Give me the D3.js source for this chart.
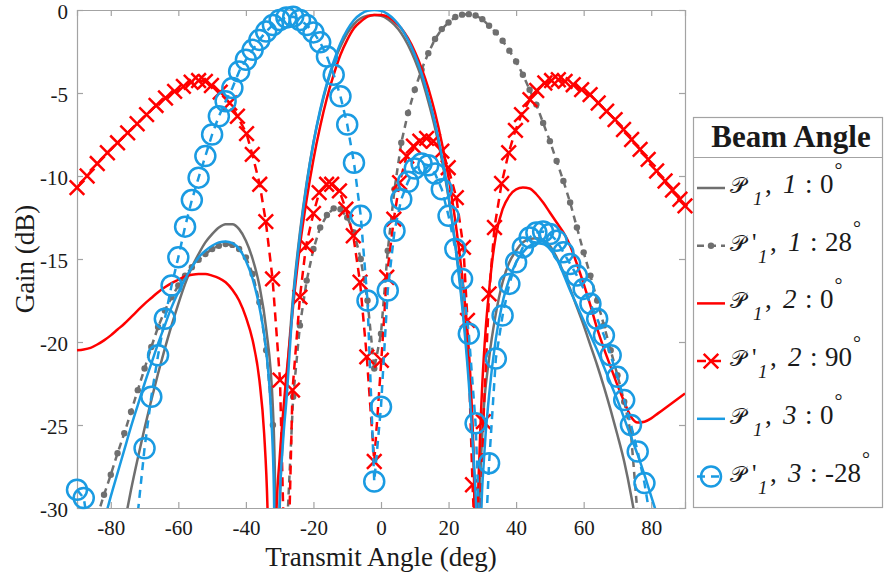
<!DOCTYPE html>
<html><head><meta charset="utf-8">
<script src="https://cdn.jsdelivr.net/npm/d3@7"></script>
<style>
body{margin:0;background:#fff}
svg{display:block}
text{font-family:"Liberation Serif","Times New Roman",serif;fill:#1a1a1a}
</style>
</head><body>
<svg id="c" width="884" height="577"></svg>
<script>
// ---------------- data (angle in deg, gain in dB) ----------------
const xTicks = [-80,-60,-40,-20,0,20,40,60,80];
const yTicks = [0,-5,-10,-15,-20,-25,-30];

const grayP1 = [[-90,-48],[-86,-42],[-82,-37],[-78,-33.3],[-76,-31.0],[-74,-28.9],[-72,-27.0],[-70,-25.2],[-68,-23.5],[-66,-21.9],[-64,-20.4],[-62,-19.0],[-60,-17.7],[-58,-16.5],[-56,-15.5],[-54,-14.7],[-52,-14.0],[-50,-13.5],[-48,-13.1],[-46,-12.9],[-44,-12.9],[-42,-13.2],[-40,-13.9],[-38,-15.0],[-36,-16.6],[-34,-19.2],[-32,-24.0],[-31.3,-29.5],[-30.7,-45],[-30.1,-31],[-29,-25.5],[-28,-22.5],[-26,-17.2],[-24,-13.4],[-22,-10.4],[-20,-8.0],[-18,-6.1],[-16,-4.5],[-14,-3.2],[-12,-2.2],[-10,-1.4],[-8,-0.85],[-6,-0.5],[-4,-0.35],[-2,-0.3],[0,-0.35],[2,-0.55],[4,-0.9],[6,-1.4],[8,-2.1],[10,-3.0],[12,-4.1],[14,-5.5],[16,-7.1],[18,-9.0],[20,-11.3],[22,-14.1],[24,-17.5],[26,-22.0],[27.2,-26.0],[27.8,-30.0],[28.4,-45],[29.0,-31],[30,-25.5],[32,-21.0],[34,-18.3],[36,-16.4],[38,-15.2],[40,-14.5],[42,-14.0],[44,-13.8],[46,-13.75],[48,-13.85],[50,-14.2],[52,-14.9],[54,-15.8],[56,-16.8],[58,-17.9],[60,-19.0],[62,-20.2],[64,-21.4],[66,-22.7],[68,-24.1],[70,-25.6],[72,-27.2],[74,-29.2],[75.5,-31],[78,-36],[82,-42],[86,-46],[90,-50]];

const grayP1p = [[-90,-45],[-88,-40],[-86,-34],[-84,-30.5],[-82,-29.2],[-80,-28.0],[-78,-26.7],[-76,-25.5],[-74,-24.2],[-72,-22.9],[-70,-21.6],[-68,-20.3],[-66,-19.1],[-64,-18.1],[-62,-17.3],[-60,-16.6],[-58,-16.0],[-56,-15.5],[-54,-15.05],[-52,-14.7],[-50,-14.4],[-48,-14.2],[-46,-14.1],[-44,-14.15],[-42,-14.4],[-40,-14.9],[-38,-15.9],[-36,-17.6],[-34,-20.5],[-32,-25.0],[-30,-40],[-28,-32],[-26,-23.3],[-24,-19.0],[-22,-16.3],[-20,-14.4],[-18,-13.1],[-16,-12.35],[-14,-11.95],[-12,-12.0],[-10,-12.5],[-8,-13.4],[-6,-15.0],[-4,-17.5],[-2,-21.6],[0,-19.5],[2,-14.5],[4,-10.8],[6,-8.0],[8,-6.2],[10,-4.8],[12,-3.6],[14,-2.6],[16,-1.75],[18,-1.15],[20,-0.75],[22,-0.42],[24,-0.28],[26,-0.25],[28,-0.33],[30,-0.55],[32,-0.95],[34,-1.35],[36,-1.85],[38,-2.45],[40,-3.1],[42,-3.9],[44,-4.8],[46,-5.7],[48,-6.8],[50,-7.9],[52,-9.1],[54,-10.3],[56,-11.6],[58,-13.1],[60,-14.6],[62,-16.0],[64,-17.5],[66,-19.0],[68,-20.5],[70,-22.0],[72,-23.6],[74,-25.5],[76,-30.5],[78,-40],[80,-36],[82,-34],[84,-33],[86,-33],[88,-33],[90,-34]];

const redP2 = [[-90,-20.5],[-88,-20.45],[-86,-20.35],[-84,-20.15],[-82,-19.9],[-80,-19.6],[-78,-19.25],[-76,-18.9],[-74,-18.5],[-72,-18.1],[-70,-17.7],[-68,-17.35],[-66,-17.0],[-64,-16.7],[-62,-16.45],[-60,-16.25],[-58,-16.05],[-56,-15.95],[-54,-15.9],[-52,-15.9],[-50,-16.0],[-48,-16.15],[-46,-16.4],[-44,-16.85],[-42,-17.5],[-40,-18.5],[-38,-19.9],[-36,-22.3],[-34.6,-25.5],[-33.6,-30],[-32.3,-45],[-31.0,-30.5],[-30,-27],[-28,-22],[-26,-17.8],[-24,-14.2],[-22,-11.4],[-20,-9.0],[-18,-7.0],[-16,-5.3],[-14,-3.9],[-12,-2.7],[-10,-1.8],[-8,-1.1],[-6,-0.7],[-4,-0.4],[-2,-0.3],[0,-0.3],[2,-0.4],[4,-0.7],[6,-1.1],[8,-1.7],[10,-2.5],[12,-3.5],[14,-4.7],[16,-6.2],[18,-8.0],[20,-10.1],[22,-12.7],[24,-16.0],[26,-20.5],[27,-24.5],[27.6,-29],[28.1,-45],[28.6,-31],[29.2,-26.5],[30,-22.5],[31,-19.2],[32,-16.9],[33,-15.0],[34,-13.6],[36,-12.0],[38,-11.2],[40,-10.8],[42,-10.7],[44,-10.75],[46,-11.1],[48,-11.6],[50,-12.2],[52,-12.8],[54,-13.4],[56,-14.2],[58,-15.3],[60,-16.5],[62,-17.8],[64,-19.2],[66,-20.4],[68,-21.5],[70,-22.6],[72,-23.6],[74,-24.5],[76,-24.85],[78,-24.8],[80,-24.6],[82,-24.3],[84,-24.0],[86,-23.7],[88,-23.4],[90,-23.1]];

const redP2p = [[-90,-10.7],[-87,-10.0],[-84,-9.25],[-81,-8.6],[-78,-8.0],[-75,-7.4],[-72.2,-6.85],[-69.4,-6.3],[-66.6,-5.75],[-63.8,-5.3],[-61.1,-4.9],[-58.5,-4.6],[-56.2,-4.35],[-54,-4.25],[-52,-4.3],[-50.2,-4.55],[-47.6,-4.95],[-44.8,-5.6],[-42.5,-6.4],[-39.8,-7.45],[-38.1,-8.7],[-35.9,-10.5],[-34.1,-12.75],[-32.1,-16.2],[-29.9,-22.3],[-28,-38],[-26.2,-22.9],[-24,-17.3],[-22.2,-14.2],[-20,-12.25],[-18.3,-11.0],[-16.1,-10.5],[-14.6,-10.5],[-12.3,-10.9],[-10.4,-12.0],[-8.2,-13.6],[-6.2,-16.4],[-4.2,-20.9],[-2.0,-27.2],[0.1,-21.1],[1.7,-16.1],[3.8,-12.6],[5.5,-10.4],[7.6,-8.8],[9.6,-8.2],[11.5,-7.9],[13.5,-7.73],[15.5,-7.9],[18,-8.5],[19.9,-9.5],[22.3,-11.3],[24.4,-14.3],[25.6,-18.7],[27.1,-28.6],[28.7,-36],[30.3,-24.8],[32,-17.1],[33.6,-13.1],[35.7,-10.45],[37.8,-8.6],[39.8,-7.25],[41.6,-6.3],[44.1,-5.4],[46.1,-4.85],[48.5,-4.4],[50.5,-4.25],[52.5,-4.2],[54.5,-4.3],[56.9,-4.5],[59.4,-4.8],[61.9,-5.1],[64.3,-5.6],[66.8,-6.1],[69.3,-6.6],[71.8,-7.2],[74.2,-7.8],[76.7,-8.4],[79.1,-9.0],[81.6,-9.7],[84.1,-10.3],[86.3,-10.85],[88.5,-11.4],[90,-11.8]];

const blueP3 = [[-90,-40],[-86,-34],[-84,-32.4],[-82,-30.8],[-80,-29.3],[-78,-27.9],[-76,-26.5],[-74,-25.1],[-72,-23.8],[-70,-22.5],[-68,-21.3],[-66,-20.1],[-64,-19.0],[-62,-17.9],[-60,-17.0],[-58,-16.2],[-56,-15.5],[-54,-14.9],[-52,-14.5],[-50,-14.2],[-48,-14.0],[-46,-13.95],[-44,-14.05],[-42,-14.4],[-40,-15.1],[-38,-16.2],[-36,-17.9],[-34,-20.5],[-32.5,-24.5],[-31.7,-29],[-30.9,-45],[-30.1,-30.5],[-29,-26],[-28,-23.5],[-26,-17.5],[-24,-13.6],[-22,-10.5],[-20,-8.0],[-18,-6.0],[-16,-4.4],[-14,-3.1],[-12,-2.0],[-10,-1.2],[-8,-0.6],[-6,-0.25],[-4,-0.05],[-2,0],[0,-0.05],[2,-0.25],[4,-0.6],[6,-1.1],[8,-1.8],[10,-2.7],[12,-3.8],[14,-5.2],[16,-6.8],[18,-8.8],[20,-11.2],[22,-14.2],[24,-17.8],[26,-22.5],[27.4,-27],[28.3,-31],[28.9,-45],[29.6,-31],[30.5,-27],[32,-23.2],[34,-19.8],[36,-17.6],[38,-16.2],[40,-15.2],[42,-14.6],[44,-14.2],[46,-14.05],[48,-14.1],[50,-14.4],[52,-15.0],[54,-15.9],[56,-16.9],[58,-17.8],[60,-18.7],[62,-19.6],[64,-20.5],[66,-21.5],[68,-22.5],[70,-23.5],[72,-24.6],[74,-25.7],[76,-26.8],[78,-28.0],[80,-29.3],[82,-30.6],[86,-33.5],[90,-37]];

const blueP3p = [[-90,-28.9],[-88,-29.4],[-86,-32],[-84,-36],[-82,-42],[-80,-45],[-78,-40],[-76,-36],[-74,-33],[-72,-30.3],[-70,-26.4],[-68,-23.3],[-66,-20.8],[-64,-18.6],[-62,-16.6],[-60,-14.9],[-58,-13.05],[-56,-11.45],[-54,-10.1],[-52,-8.8],[-50,-7.5],[-48,-6.4],[-46,-5.5],[-44,-4.7],[-42,-3.7],[-40,-3.0],[-38,-2.4],[-36,-1.8],[-34,-1.3],[-32,-0.9],[-30,-0.6],[-28,-0.45],[-26,-0.4],[-24,-0.6],[-22,-0.9],[-20,-1.35],[-18,-1.95],[-16,-2.8],[-14,-3.9],[-12,-5.2],[-10,-6.9],[-8,-9.2],[-6,-12.4],[-4,-17.5],[-2,-28.4],[0,-23.9],[2,-16.9],[4,-13.3],[6,-11.4],[8,-10.35],[10,-9.55],[12,-9.25],[14,-9.35],[16,-9.85],[18,-10.8],[20,-12.4],[22,-14.4],[24,-16.2],[26,-19.5],[28,-24.9],[30,-36],[32,-27.3],[34,-21.0],[36,-18.4],[38,-16.5],[40,-15.2],[42,-14.3],[44,-13.7],[46,-13.4],[48,-13.35],[50,-13.5],[52,-13.9],[54,-14.6],[56,-15.3],[58,-16.0],[60,-16.8],[62,-17.7],[64,-18.6],[66,-19.6],[68,-20.8],[70,-22.1],[72,-23.5],[74,-25.0],[76,-26.6],[78,-28.5],[80,-31],[82,-34],[84,-37],[86,-40],[88,-43],[90,-46]];

const legendTitle = "Beam Angle";
const legendEntries = [
  {idx:"1", val:"0",   prime:false},
  {idx:"1", val:"28",  prime:true},
  {idx:"2", val:"0",   prime:false},
  {idx:"2", val:"90",  prime:true},
  {idx:"3", val:"0",   prime:false},
  {idx:"3", val:"-28", prime:true}
];

// ---------------- drawing ----------------
const GRAY="#6f6f6f", RED="#ff0000", BLUE="#1a9be2";
const series = [
  {data:grayP1,  color:GRAY, dash:null,  marker:null,     curve:d3.curveMonotoneX},
  {data:grayP1p, color:GRAY, dash:"7,5", marker:"dot",    curve:d3.curveLinear},
  {data:redP2,   color:RED,  dash:null,  marker:null,     curve:d3.curveMonotoneX},
  {data:redP2p,  color:RED,  dash:"9,6", marker:"x",      curve:d3.curveLinear},
  {data:blueP3,  color:BLUE, dash:null,  marker:null,     curve:d3.curveMonotoneX},
  {data:blueP3p, color:BLUE, dash:"8,6", marker:"circle", curve:d3.curveLinear}
];

const L=77,R=685,T=10,B=508;
const svg=d3.select("#c");
const x=d3.scaleLinear().domain([-90,90]).range([L,R]);
const y=d3.scaleLinear().domain([-30,0]).range([B,T]);

svg.append("defs").append("clipPath").attr("id","clip")
  .append("rect").attr("x",L).attr("y",T).attr("width",R-L).attr("height",B-T);

// axes
const AX="#a3a3a3";
function styleAxis(g){
  g.select(".domain").attr("stroke",AX).attr("stroke-width",1.2);
  g.selectAll(".tick line").attr("stroke",AX).attr("stroke-width",1.2);
  g.selectAll(".tick text").style("font-family",'"Liberation Serif",serif').style("font-size","21px").attr("fill","#262626");
}
svg.append("g").attr("transform",`translate(0,${B})`)
  .call(d3.axisBottom(x).tickValues(xTicks).tickSize(-6).tickPadding(12).tickFormat(d3.format("d")))
  .call(styleAxis);
svg.append("g").attr("transform",`translate(0,${T})`)
  .call(d3.axisTop(x).tickValues(xTicks).tickSize(-6).tickFormat(""))
  .call(styleAxis);
const yAx=svg.append("g").attr("transform",`translate(${L},0)`)
  .call(d3.axisLeft(y).tickValues(yTicks).tickSize(-6).tickPadding(9).tickFormat(d3.format("d")))
  .call(styleAxis);
yAx.selectAll(".tick text").attr("dy","0.42em");
svg.append("g").attr("transform",`translate(${R},0)`)
  .call(d3.axisRight(y).tickValues(yTicks).tickSize(-6).tickFormat(""))
  .call(styleAxis);
svg.selectAll(".tick text").text(function(){return this.textContent.replace("\u2212","-");});

// axis titles
svg.append("text").attr("x",(L+R)/2).attr("y",566).attr("text-anchor","middle")
  .style("font-size","27px").text("Transmit Angle (deg)");
svg.append("text").attr("transform",`translate(34,${(T+B)/2}) rotate(-90)`).attr("text-anchor","middle")
  .style("font-size","27px").text("Gain (dB)");

// series
const plot=svg.append("g");
series.forEach(s=>{
  const line=d3.line().x(d=>x(d[0])).y(d=>y(d[1])).curve(s.curve);
  plot.append("path").attr("d",line(s.data)).attr("clip-path","url(#clip)")
    .attr("fill","none").attr("stroke",s.color).attr("stroke-width",2.5)
    .attr("stroke-dasharray",s.dash).attr("stroke-linejoin","round");
  if(s.marker){
    const pts=s.data.filter(d=>d[1]>=-30&&d[1]<=0);
    drawMarkers(plot,pts.map(d=>[x(d[0]),y(d[1])]),s.marker,s.color);
  }
});

function drawMarkers(g,pts,type,color){
  pts.forEach(p=>{
    if(type==="dot"){
      g.append("circle").attr("cx",p[0]).attr("cy",p[1]).attr("r",3.2).attr("fill",color);
    } else if(type==="x"){
      const r=7.3;
      g.append("path").attr("d",`M${p[0]-r},${p[1]-r}L${p[0]+r},${p[1]+r}M${p[0]-r},${p[1]+r}L${p[0]+r},${p[1]-r}`)
        .attr("stroke",color).attr("stroke-width",2.5).attr("fill","none");
    } else {
      g.append("circle").attr("cx",p[0]).attr("cy",p[1]).attr("r",10)
        .attr("fill","none").attr("stroke",color).attr("stroke-width",2.5);
    }
  });
}

// legend
const lg=svg.append("g");
lg.append("rect").attr("x",693.5).attr("y",117.5).attr("width",189).attr("height",390)
  .attr("fill","#fff").attr("stroke",AX).attr("stroke-width",1.2);
lg.append("line").attr("x1",693.5).attr("x2",882.5).attr("y1",157.5).attr("y2",157.5)
  .attr("stroke",AX).attr("stroke-width",1.2);
lg.append("text").attr("x",791).attr("y",147).attr("text-anchor","middle")
  .style("font-size","31px").style("font-weight","bold").text(legendTitle);

legendEntries.forEach((e,i)=>{
  const s=series[i];
  const ry=188+i*57.7;
  lg.append("line").attr("x1",697).attr("x2",725).attr("y1",ry).attr("y2",ry)
    .attr("stroke",s.color).attr("stroke-width",2.5).attr("stroke-dasharray",s.dash);
  if(s.marker) drawMarkers(lg,[[711,ry]],s.marker,s.color);
  const sh=e.prime?5:0;
  const base=ry+5;
  const g=lg.append("g");
  const piece=(xx,yy,txt,size,italic)=>g.append("text").attr("x",xx).attr("y",yy)
      .style("font-size",size+"px").style("font-style",italic?"italic":"normal").text(txt);
  piece(730,base,"\u{1D4AB}",22,false);
  if(e.prime) piece(752,base,"'",25,false);
  piece(753+sh,base+12,"1",19,true);
  piece(765+sh,base,",",27,false);
  piece(783+sh,base,e.idx,27,true);
  piece(805+sh,base,":",27,false);
  const v=piece(820+sh,base,e.val,27,false);
  const w=v.node().getComputedTextLength();
  piece(820+sh+w+1,base-16,"\u00B0",20,false);
});
</script>
</body></html>
